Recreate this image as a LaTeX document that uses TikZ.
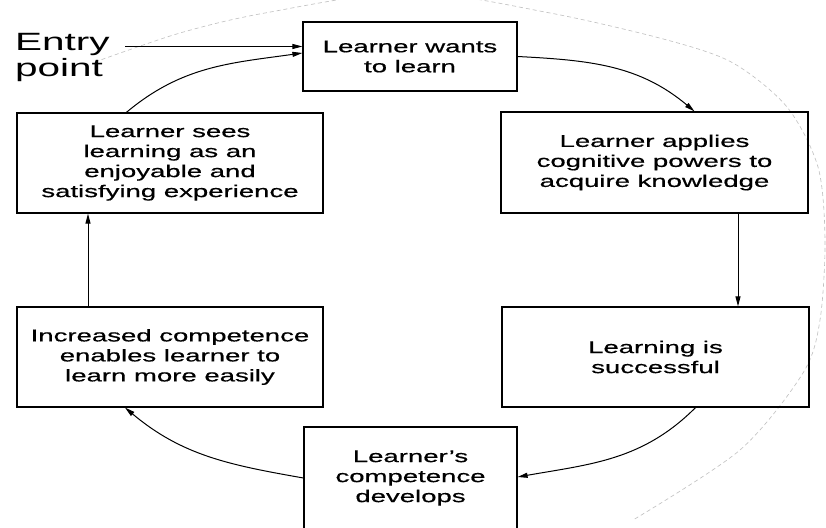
\documentclass[tikz,border=0pt]{standalone}
\usepackage{fontspec}
\setmainfont{Liberation Sans}
\newfontfamily\widesans[FakeStretch=1.62]{Liberation Sans}
\newfontfamily\widesansheavy[FakeStretch=1.62, FakeBold=0.6]{Liberation Sans}
\usetikzlibrary{arrows.meta}
\tikzset{
  stagebox/.style={draw, line width=1.2pt, align=center, inner sep=0pt,
    font=\widesansheavy\fontsize{17}{20}\selectfont},
  flow/.style={line width=1pt, -{Triangle[length=10pt,width=5pt]}},
  scanarc/.style={gray!50, line width=0.6pt, dash pattern=on 4pt off 3pt}
}
\begin{document}
\begin{tikzpicture}[x=1pt,y=1pt]
  \useasboundingbox (0,0) rectangle (826,527);
  \fill[white] (0,0) rectangle (826,527);
  \clip (0,0) rectangle (826,527);

  % faint guide circle behind the cycle
  \draw[scanarc] plot[smooth] coordinates {(95,465) (180,494) (265,514) (410,535)
    (550,514) (667,487) (733,464) (787,420) (818,360) (825,287) (820,207)
    (803,154) (740,77) (633,7)};

  % stages of the cycle
  \node[stagebox, minimum width=214, minimum height=69] (top) at (410,470.5)
    {Learner wants\\to learn};
  \node[stagebox, minimum width=307, minimum height=101] (apply) at (654.5,364.5)
    {Learner applies\\cognitive powers to\\acquire knowledge};
  \node[stagebox, minimum width=307, minimum height=100] (success) at (655.5,170)
    {Learning is\\successful};
  \node[stagebox, minimum width=213, minimum height=102] (develop) at (410.5,49)
    {Learner’s\\competence\\develops};
  \node[stagebox, minimum width=306, minimum height=100] (easier) at (170,170)
    {Increased competence\\enables learner to\\learn more easily};
  \node[stagebox, minimum width=306, minimum height=100] (enjoy) at (170,364)
    {Learner sees\\learning as an\\enjoyable and\\satisfying experience};

  % entry label
  \node[anchor=west, align=left, inner sep=0pt,
    font=\widesans\fontsize{25}{26}\selectfont] (entry) at (15,469.5) {Entry\\point};
  \coordinate (entrystart) at (125,480.5);

  % connectors
  \draw[flow] (entrystart) -- ([yshift=10pt]top.west);
  \draw[flow] ([xshift=110pt]enjoy.north west) to[out=40, in=188] ([yshift=3.5pt]top.west);
  \draw[flow] (top.east) to[out=-3, in=140] ([xshift=40pt]apply.north);
  \draw[flow] ([xshift=83.5pt]apply.south) -- ([xshift=83.5pt]apply.south |- success.north);
  \draw[flow] ([xshift=40pt]success.south) to[out=225, in=10] ([yshift=1pt]develop.east);
  \draw[flow] (develop.west) to[out=170, in=-40] ([xshift=-45pt]easier.south);
  \draw[flow] ([xshift=-82pt]easier.north) -- ([xshift=-82pt]easier.north |- enjoy.south);
\end{tikzpicture}
\end{document}
